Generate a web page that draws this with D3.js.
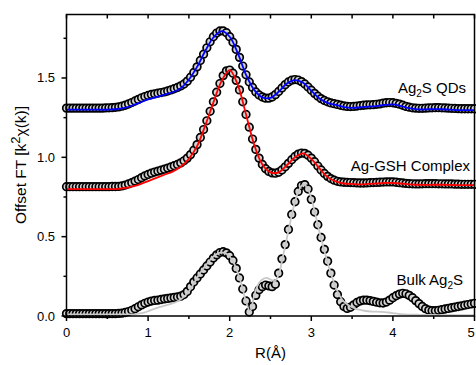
<!DOCTYPE html>
<html><head><meta charset="utf-8">
<script src="https://cdn.jsdelivr.net/npm/d3@7"></script>
<style>body{margin:0;background:#fff}svg{display:block}text{font-family:"Liberation Sans",Arial,sans-serif;fill:#000}</style>
</head><body>
<svg id="c" width="476" height="365"></svg>
<script>
// experimental data sampled every 0.04 Å from 0 to 5
const dataStep = 0.04;
const qdsData = [1.31,1.31,1.31,1.31,1.31,1.31,1.31,1.31,1.31,1.31,1.31,1.31,1.311,1.312,1.313,1.315,1.318,1.322,1.328,1.336,1.345,1.355,1.365,1.375,1.383,1.39,1.396,1.40,1.404,1.408,1.412,1.418,1.425,1.432,1.44,1.45,1.462,1.48,1.505,1.535,1.57,1.61,1.65,1.69,1.728,1.76,1.783,1.796,1.797,1.785,1.76,1.725,1.68,1.63,1.575,1.52,1.475,1.44,1.412,1.393,1.38,1.373,1.373,1.38,1.395,1.415,1.437,1.458,1.475,1.486,1.49,1.487,1.477,1.462,1.443,1.423,1.403,1.385,1.37,1.358,1.35,1.343,1.338,1.333,1.328,1.324,1.321,1.32,1.321,1.323,1.326,1.328,1.33,1.331,1.332,1.334,1.337,1.341,1.344,1.345,1.344,1.34,1.335,1.328,1.321,1.316,1.312,1.31,1.309,1.309,1.31,1.311,1.312,1.313,1.313,1.312,1.311,1.31,1.309,1.308,1.307,1.306,1.306,1.306,1.306,1.306];
const gshData = [0.815,0.815,0.815,0.815,0.815,0.815,0.815,0.815,0.815,0.815,0.815,0.815,0.815,0.815,0.816,0.816,0.817,0.82,0.825,0.832,0.84,0.85,0.86,0.872,0.883,0.892,0.90,0.907,0.913,0.919,0.925,0.932,0.939,0.947,0.955,0.965,0.978,0.995,1.017,1.045,1.08,1.125,1.175,1.23,1.29,1.35,1.41,1.465,1.515,1.545,1.55,1.53,1.485,1.425,1.35,1.27,1.19,1.115,1.05,0.995,0.955,0.928,0.911,0.902,0.90,0.906,0.92,0.94,0.962,0.985,1.005,1.02,1.027,1.025,1.013,0.995,0.972,0.945,0.92,0.898,0.88,0.866,0.856,0.849,0.845,0.843,0.842,0.841,0.84,0.839,0.838,0.838,0.839,0.84,0.841,0.842,0.843,0.844,0.845,0.845,0.845,0.843,0.84,0.838,0.836,0.834,0.833,0.832,0.832,0.833,0.834,0.834,0.834,0.834,0.833,0.833,0.832,0.832,0.832,0.831,0.831,0.83,0.83,0.83,0.83,0.83];
const bulkData = [0.015,0.015,0.015,0.015,0.015,0.015,0.015,0.015,0.015,0.015,0.015,0.015,0.015,0.015,0.015,0.015,0.016,0.018,0.022,0.028,0.036,0.046,0.058,0.07,0.08,0.088,0.094,0.098,0.10,0.104,0.108,0.111,0.114,0.117,0.12,0.125,0.135,0.155,0.185,0.215,0.24,0.265,0.29,0.315,0.34,0.365,0.385,0.40,0.405,0.398,0.38,0.35,0.30,0.24,0.17,0.095,0.025,0.06,0.13,0.165,0.185,0.195,0.19,0.185,0.20,0.27,0.36,0.45,0.545,0.64,0.72,0.785,0.822,0.828,0.80,0.735,0.655,0.575,0.495,0.42,0.345,0.27,0.195,0.135,0.09,0.06,0.048,0.055,0.07,0.085,0.095,0.10,0.10,0.097,0.092,0.087,0.083,0.082,0.088,0.10,0.115,0.128,0.138,0.143,0.14,0.13,0.115,0.097,0.078,0.06,0.046,0.037,0.033,0.033,0.036,0.04,0.044,0.048,0.052,0.056,0.06,0.064,0.068,0.072,0.076,0.08];
// fits
const fitStep = 0.1;
const qdsFit = [1.30,1.30,1.30,1.30,1.30,1.30,1.303,1.31,1.325,1.345,1.365,1.38,1.395,1.41,1.435,1.49,1.57,1.67,1.755,1.795,1.76,1.655,1.52,1.425,1.378,1.375,1.413,1.465,1.487,1.47,1.42,1.37,1.343,1.33,1.317,1.312,1.315,1.32,1.323,1.33,1.333,1.323,1.31,1.302,1.302,1.304,1.303,1.30,1.298,1.297,1.297];
const gshFit = [0.80,0.80,0.80,0.80,0.80,0.80,0.80,0.805,0.815,0.83,0.85,0.87,0.89,0.91,0.94,0.99,1.07,1.2,1.345,1.48,1.55,1.455,1.27,1.08,0.955,0.905,0.905,0.95,1.0,1.025,0.99,0.93,0.875,0.848,0.835,0.832,0.83,0.832,0.835,0.838,0.838,0.835,0.83,0.827,0.826,0.827,0.827,0.826,0.825,0.825,0.825];
const bulkFitStep = 0.05;
const bulkFit = [0.01,0.01,0.01,0.01,0.01,0.01,0.01,0.01,0.01,0.01,0.01,0.01,0.01,0.01,0.01,0.01,0.01,0.012,0.016,0.022,0.03,0.04,0.05,0.058,0.065,0.072,0.08,0.09,0.105,0.125,0.155,0.195,0.24,0.28,0.315,0.348,0.375,0.393,0.40,0.395,0.375,0.335,0.27,0.19,0.09,0.03,0.13,0.2,0.23,0.24,0.23,0.22,0.26,0.37,0.49,0.61,0.72,0.795,0.83,0.81,0.74,0.64,0.53,0.43,0.335,0.25,0.18,0.125,0.09,0.07,0.055,0.045,0.038,0.033,0.03,0.028,0.027,0.026,0.025,0.022,0.018,0.015,0.012,0.01,0.009,0.008,0.008,0.007,0.007,0.007,0.007,0.006,0.006,0.006,0.006,0.006,0.006,0.006,0.006,0.006,0.006];
const xTicks = [0,1,2,3,4,5];
const yTicks = [0.0,0.5,1.0,1.5];
const labels = [["Ag","2","S QDs"],["Ag-GSH Complex"],["Bulk Ag","2","S"]];

const toPts = (arr, step) => arr.map((v,i)=>[+(i*step).toFixed(3), v]);

const svg = d3.select("#c");
const x = d3.scaleLinear().domain([0,5]).range([66.5,474.5]);
const y = d3.scaleLinear().domain([0,1.9]).range([316,14.5]);

const series = [
  {data: toPts(bulkData,dataStep), fit: toPts(bulkFit,bulkFitStep), color:"#c8c8c8"},
  {data: toPts(gshData,dataStep), fit: toPts(gshFit,fitStep), color:"#ff0000"},
  {data: toPts(qdsData,dataStep), fit: toPts(qdsFit,fitStep), color:"#0000ff"}
];
const line = d3.line().x(d=>x(d[0])).y(d=>y(d[1])).curve(d3.curveCatmullRom.alpha(0.5));

series.forEach(s=>{
  svg.append("g").selectAll("circle").data(s.data).join("circle")
    .attr("cx",d=>x(d[0])).attr("cy",d=>y(d[1])).attr("r",3.8)
    .attr("fill","#d4d4d4").attr("stroke","#000").attr("stroke-width",1.7);
  svg.append("path").datum(s.fit).attr("d",line).attr("fill","none")
    .attr("stroke",s.color).attr("stroke-width",1.8);
});

// axes
const ax = svg.append("g").attr("stroke","#000").attr("stroke-width",1.5);
ax.append("rect").attr("x",66.5).attr("y",14.5).attr("width",408).attr("height",301.5).attr("fill","none");
// left ticks
d3.range(0,8).forEach(i=>{const v=i*0.25; const len = i%2===0?5:3;
  ax.append("line").attr("x1",66.5-len).attr("x2",66.5).attr("y1",y(v)).attr("y2",y(v));});
// bottom ticks
d3.range(0,11).forEach(i=>{const v=i*0.5; const len = i%2===0?5:3;
  ax.append("line").attr("x1",x(v)).attr("x2",x(v)).attr("y1",316).attr("y2",316+len);
  ax.append("line").attr("x1",x(v)).attr("x2",x(v)).attr("y1",14.5).attr("y2",14.5+4);});

svg.append("g").selectAll("text").data(xTicks).join("text")
  .attr("x",d=>Math.min(x(d),471)).attr("y",337).attr("text-anchor","middle").attr("font-size",13).text(d=>d);
svg.append("g").selectAll("text").data(yTicks).join("text")
  .attr("x",55).attr("y",d=>y(d)+4.5).attr("text-anchor","end").attr("font-size",13).text(d=>d.toFixed(1));

svg.append("text").attr("x",270.5).attr("y",358).attr("text-anchor","middle").attr("font-size",15).text("R(Å)");
const yt = svg.append("text").attr("transform","translate(26,165) rotate(-90)").attr("text-anchor","middle").attr("font-size",15.5);
yt.append("tspan").text("Offset FT [k");
yt.append("tspan").attr("dy",-6).attr("font-size",13).text("2");
yt.append("tspan").attr("dy",6).text("χ(k)]");

const labPos = [[466,93],[470,171],[463,285]];
labels.forEach((parts,i)=>{
  const t = svg.append("text").attr("x",labPos[i][0]).attr("y",labPos[i][1]).attr("text-anchor","end").attr("font-size",15);
  if(parts.length===1){t.text(parts[0]);}
  else {t.append("tspan").text(parts[0]);
    t.append("tspan").attr("dy",4).attr("font-size",10).text(parts[1]);
    t.append("tspan").attr("dy",-4).text(parts[2]);}
});
</script>
</body></html>
